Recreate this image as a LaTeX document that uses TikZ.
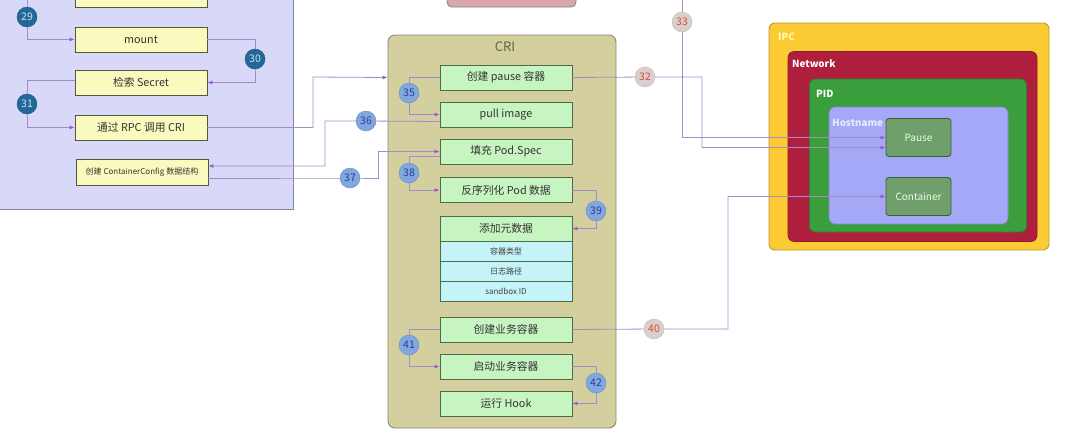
\documentclass[tikz,border=0pt]{standalone}
\usepackage{fontspec}
\setmainfont{Noto Sans CJK SC}
\usetikzlibrary{arrows.meta}
\definecolor{panelfill}{HTML}{D8D8F8}
\definecolor{paneldraw}{HTML}{85859A}
\definecolor{yfill}{HTML}{FAFABF}
\definecolor{ydraw}{HTML}{55553F}
\definecolor{gfill}{HTML}{C7F5C1}
\definecolor{gdraw}{HTML}{4D6B46}
\definecolor{cfill}{HTML}{C4F3F8}
\definecolor{crifill}{HTML}{D3CF9F}
\definecolor{cridraw}{HTML}{8C8A6E}
\definecolor{critext}{HTML}{5B6A3B}
\definecolor{pinkfill}{HTML}{D9A7A9}
\definecolor{conncol}{HTML}{A48CC6}
\definecolor{tipcol}{HTML}{9A55D2}
\definecolor{darkc}{HTML}{22699A}
\definecolor{darkt}{HTML}{CFE0F0}
\definecolor{bluec}{HTML}{80A7DE}
\definecolor{bluet}{HTML}{2D3D95}
\definecolor{redc}{HTML}{D9D0CD}
\definecolor{redt}{HTML}{D9493A}
\definecolor{ipcfill}{HTML}{FCCB34}
\definecolor{ipcdraw}{HTML}{B99A35}
\definecolor{netfill}{HTML}{B01E3D}
\definecolor{pidfill}{HTML}{3A9E3C}
\definecolor{hostfill}{HTML}{A4A8F7}
\definecolor{hosttext}{HTML}{E8EAFF}
\definecolor{nsfill}{HTML}{6F9F6B}
\definecolor{nsdraw}{HTML}{3E5E3A}
\tikzset{
  panelbox/.style={draw=paneldraw, fill=panelfill, line width=0.9pt, inner sep=0pt},
  ybox/.style={draw=ydraw, fill=yfill, line width=0.9pt, minimum width=132pt, minimum height=25pt, inner sep=0pt, font=\fontsize{10.8}{12}\selectfont, text=black!80},
  gbox/.style={draw=gdraw, fill=gfill, line width=0.9pt, minimum width=132pt, minimum height=25pt, inner sep=0pt, font=\fontsize{10.8}{12}\selectfont, text=black!80},
  cbox/.style={draw=gdraw, fill=cfill, line width=0.9pt, minimum width=132pt, minimum height=20pt, inner sep=0pt, font=\fontsize{8}{9}\selectfont, text=black!75},
  nsbox/.style={rounded corners=6pt, inner sep=0pt},
  nslabel/.style={anchor=west, inner sep=0pt, font=\bfseries\fontsize{9.8}{11}\selectfont},
  procbox/.style={draw=nsdraw, fill=nsfill, line width=0.9pt, rounded corners=3pt, minimum width=65pt, minimum height=38pt, inner sep=0pt, font=\fontsize{10}{11}\selectfont, text=white!92!green},
  conn/.style={draw=conncol, line width=0.8pt},
  arr/.style={conn, -{Latex[length=5pt,width=4pt,color=tipcol]}},
  numdark/.style={circle, fill=darkc, draw=darkc!80!black, line width=0.4pt, minimum size=20pt, inner sep=0pt, text=darkt, font=\fontsize{10.5}{12}\selectfont},
  numblue/.style={circle, fill=bluec, draw=bluec!85!black, line width=0.4pt, minimum size=20pt, inner sep=0pt, text=bluet, font=\fontsize{10.5}{12}\selectfont},
  numred/.style={circle, fill=redc, draw=redc!90!black, line width=0.4pt, minimum size=20pt, inner sep=0pt, text=redt, font=\fontsize{10.5}{12}\selectfont},
}
\begin{document}
\begin{tikzpicture}[x=1pt,y=-1pt]
\useasboundingbox (0,0) rectangle (1083,429);
\clip (0,0) rectangle (1083,429);
\fill[white] (0,0) rectangle (1083,429);

% left panel
\node[panelbox, minimum width=303pt, minimum height=219pt] (kubelet) at (141.5,99.5) {};
\node[ybox, minimum height=27pt] (ytop) at (141,-6.5) {};
\node[ybox] (mount) at (141,39.5) {mount};
\node[ybox] (secret) at (141,82.5) {检索 Secret};
\node[ybox] (rpc) at (141,127.5) {通过 RPC 调用 CRI};
\node[ybox, minimum height=26pt, font=\fontsize{8}{9}\selectfont] (cfg) at (142,172) {创建 ContainerConfig 数据结构};

% top pink box
\node[draw=paneldraw, fill=pinkfill, line width=0.9pt, rounded corners=5pt, minimum width=129pt, minimum height=27pt] (pinktop) at (511.5,-6.5) {};

% CRI box
\node[draw=cridraw, fill=crifill, line width=0.9pt, rounded corners=7pt, minimum width=228pt, minimum height=393pt] (cri) at (502,231.5) {};
\node[text=critext, font=\fontsize{13}{15}\selectfont] (crititle) at (505,47) {CRI};
\node[gbox] (pause) at (506,77.5) {创建 pause 容器};
\node[gbox] (pull) at (506,114.5) {pull image};
\node[gbox] (podspec) at (506,151.5) {填充 Pod.Spec};
\node[gbox] (deser) at (506,190) {反序列化 Pod 数据};
\node[gbox] (meta) at (506,228.5) {添加元数据};
\node[cbox] (r1) at (506,251) {容器类型};
\node[cbox] (r2) at (506,271) {日志路径};
\node[cbox] (r3) at (506,291) {sandbox ID};
\node[gbox] (biz1) at (506,329.5) {创建业务容器};
\node[gbox] (biz2) at (506,366.5) {启动业务容器};
\node[gbox] (hook) at (506,403.5) {运行 Hook};

% namespaces
\node[nsbox, draw=ipcdraw, fill=ipcfill, line width=0.9pt, minimum width=280pt, minimum height=227pt] (ipc) at (909,136.5) {};
\node[nsbox, draw=netfill!80!black, fill=netfill, line width=0.6pt, minimum width=249pt, minimum height=190pt] (net) at (912.5,146.5) {};
\node[nsbox, draw=pidfill!80!black, fill=pidfill, line width=0.6pt, minimum width=217pt, minimum height=153pt] (pid) at (918,155.5) {};
\node[nsbox, draw=hostfill!80!black, fill=hostfill, line width=0.6pt, minimum width=179pt, minimum height=117pt] (host) at (918.5,165.5) {};
\node[nslabel, text=yellow!30!white] (ipcl) at (778,37) {IPC};
\node[nslabel, text=white] (netl) at (792,64) {Network};
\node[nslabel, text=white] (pidl) at (816,94) {PID};
\node[nslabel, text=hosttext] (hostl) at (832,123) {Hostname};
\node[procbox] (pausec) at (918.5,137.5) {Pause};
\node[procbox] (contc) at (918.5,196.5) {Container};

% coordinates of the number circles and bends
\coordinate (p29) at (27,17);
\coordinate (top29) at (27,-10);
\coordinate (p30) at (255,59);
\coordinate (p31) at (27,104);
\coordinate (k1) at (313,77);
\coordinate (p35) at (409,93);
\coordinate (p36) at (366,121);
\coordinate (k36) at (325,121);
\coordinate (p37) at (350,178);
\coordinate (k37) at (378,151.5);
\coordinate (p38) at (409,173);
\coordinate (p39) at (596,211);
\coordinate (p41) at (409,345);
\coordinate (p42) at (596,383);
\coordinate (p32) at (645,77);
\coordinate (k32) at (702,147.5);
\coordinate (p33) at (682,22);
\coordinate (top33) at (682,-10);
\coordinate (p40) at (654,329);
\coordinate (k40) at (728,196.5);

% connectors
\draw[arr] (top29) -- (p29) |- (mount.west);
\draw[arr] (mount.east) -| (p30) |- (secret.east);
\draw[arr] ([yshift=2pt]secret.west) -| (p31) |- (rpc.west);
\draw[arr] (rpc.east) -| (k1) -- (cri.west |- pause.west);
\draw[arr] (pause.west) -| (p35) |- (pull.west);
\draw[arr] ([yshift=-7pt]pull.west) -- (p36) -- (k36) |- ([yshift=6pt]cfg.east);
\draw[arr] ([yshift=-6pt]cfg.east) -- (p37) -| (k37) -- (podspec.west);
\draw[arr] ([yshift=-5pt]podspec.west) -| (p38) |- (deser.west);
\draw[arr] (deser.east) -| (p39) |- (meta.east);
\draw[arr] (biz1.west) -| (p41) |- (biz2.west);
\draw[arr] (biz2.east) -| (p42) |- (hook.east);
\draw[arr] (pause.east) -- (p32) -| (k32) -- ([yshift=-10pt]pausec.west);
\draw[arr] (top33) -- (p33) |- (pausec.west);
\draw[arr] (biz1.east) -- (p40) -| (k40) -- (contc.west);

% number circles
\node[numdark] (n29) at (p29) {29};
\node[numdark] (n30) at (p30) {30};
\node[numdark] (n31) at (p31) {31};
\node[numblue] (n35) at (p35) {35};
\node[numblue] (n36) at (p36) {36};
\node[numblue] (n37) at (p37) {37};
\node[numblue] (n38) at (p38) {38};
\node[numblue] (n39) at (p39) {39};
\node[numblue] (n41) at (p41) {41};
\node[numblue] (n42) at (p42) {42};
\node[numred] (n32) at (p32) {32};
\node[numred] (n33) at (p33) {33};
\node[numred] (n40) at (p40) {40};
\end{tikzpicture}
\end{document}
